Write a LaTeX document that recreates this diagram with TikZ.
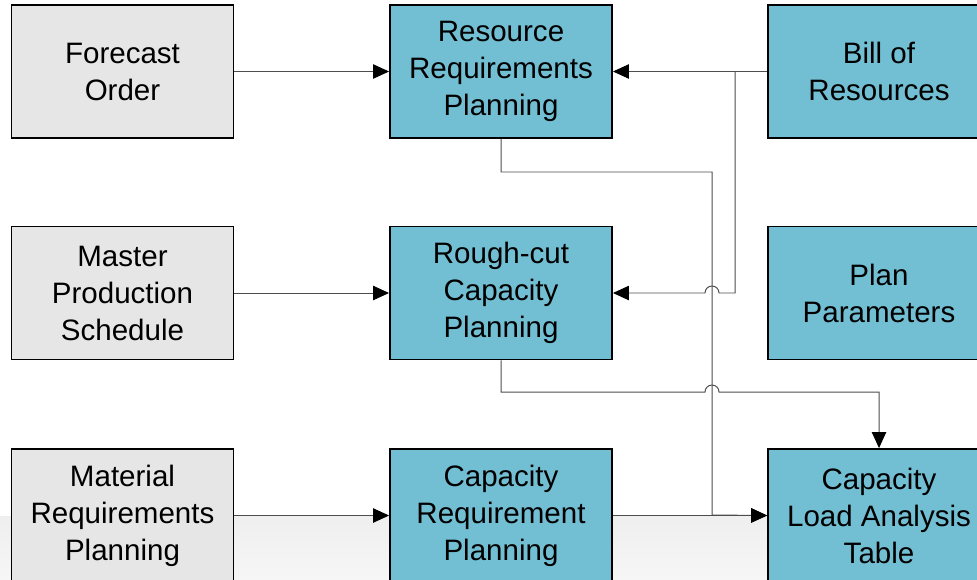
\documentclass[tikz,border=0pt]{standalone}
\usepackage{fontspec}
\setmainfont{Liberation Sans}
\usetikzlibrary{arrows.meta, positioning}

\definecolor{boxgray}{HTML}{E6E6E6}
\definecolor{boxblue}{HTML}{72BED3}
\definecolor{wiregray}{HTML}{4D4D4D}

\tikzset{
    inbox/.style={draw=black, line width=1.3pt, fill=boxgray, minimum width=5.55cm, minimum height=3.325cm,
        align=center, inner sep=0pt, font=\fontsize{21}{26.3}\selectfont},
    planbox/.style={inbox, fill=boxblue},
    wire/.style={draw=wiregray, line width=0.7pt}
}

\begin{document}
\begin{tikzpicture}[x=0.025cm, y=-0.025cm, >={Triangle[length=0.4cm, width=0.36cm, color=black]}]
                    \clip (0, 0) rectangle (977, 579);
                    \fill[white] (0, 0) rectangle (977, 579);
                    \shade[top color=gray!13, bottom color=gray!7] (0, 516) rectangle (977, 579);

                    \node[inbox] (fo) at (122.5, 71.5) {Forecast\\Order};
                    \node[inbox] (mps) at (122.5, 293) {Master\\Production\\Schedule};
                    \node[inbox] (mrp) at (122.5, 515.5) {Material\\Requirements\\Planning};

                    \node[planbox] (rrp) at (501, 71.5) {Resource\\Requirements\\Planning};
                    \node[planbox] (rcp) at (501, 293) {Rough-cut\\Capacity\\Planning};
                    \node[planbox] (crp) at (501, 515.5) {Capacity\\Requirement\\Planning};

                    \node[planbox] (bor) at (879, 71.5) {Bill of\\Resources};
                    \node[planbox] (pp) at (879, 293) {Plan\\Parameters};
                    \node[planbox] (clat) at (879, 515.5) {Capacity\\Load Analysis\\Table};

                    \coordinate (split) at (735, 72);

                    % inputs from the left
                    \draw[wire, ->] (fo) -- (rrp);
                    \draw[wire, ->] (mps) -- (rcp);
                    \draw[wire, ->] (mrp) -- (crp);
                    \draw[wire, ->] (crp) -- (clat);

                    % bill of resources
                    \draw[wire, ->] (bor) -- (rrp);
                    \draw[wire, ->] (split) -- (735, 293) -- (719, 293)
                        arc[start angle=0, end angle=180, radius=0.175cm] -- (rcp.east);

                    % results into the load table
                    \draw[wire, ->] (rrp.south) -- (501, 172) -- (712, 172) -- (712, 515) -- (clat.west);
                    \draw[wire, ->] (rcp.south) -- (501, 392) -- (705, 392)
                        arc[start angle=180, end angle=0, radius=0.175cm] -- (879, 392) -- (clat.north);
                \end{tikzpicture}
\end{document}
